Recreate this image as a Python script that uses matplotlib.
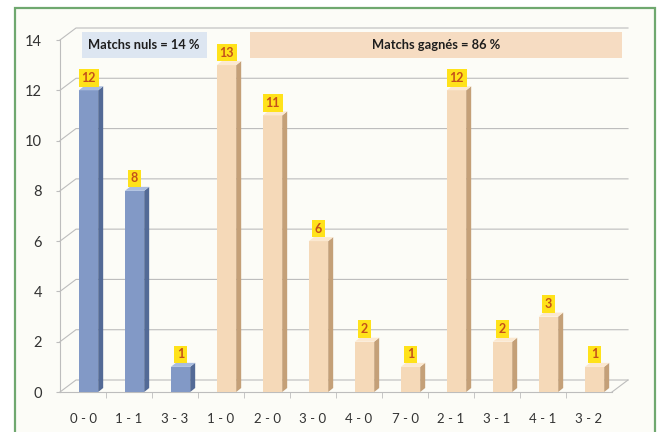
import matplotlib.pyplot as plt
from matplotlib.patches import Rectangle, Polygon
import numpy as np

categories = ['0 - 0', '1 - 1', '3 - 3', '1 - 0', '2 - 0', '3 - 0', '4 - 0',
              '7 - 0', '2 - 1', '3 - 1', '4 - 1', '3 - 2']
values = [12, 8, 1, 13, 11, 6, 2, 1, 12, 2, 3, 1]
n_draws = 3
label_draws = 'Matchs nuls = 14 %'
label_wins = 'Matchs gagnés = 86 %'
yticks = [0, 2, 4, 6, 8, 10, 12, 14]

plt.rcParams['font.family'] = ['Lato', 'DejaVu Sans']

W, H = 664, 432
fig = plt.figure(figsize=(W / 100, H / 100), dpi=100)
fig.patch.set_facecolor('white')

# green frame around the chart area
fig.patches.append(Rectangle((15 / W, -0.05), 640 / W, (432 - 8) / H + 0.05,
                             transform=fig.transFigure, facecolor='#fcfcf7',
                             edgecolor='#6fa86f', lw=1.6, zorder=-1))

ax = fig.add_axes([60 / W, 40 / H, (612 - 60) / W, (392 - 40) / H])
ax.set_zorder(2)
ax.set_facecolor('none')
ax.set_xlim(-0.5, len(categories) - 0.5)
ax.set_ylim(0, 14)
for s in ax.spines.values():
    s.set_visible(False)

px_x = (612 - 60) / len(categories)      # pixels per category
px_y = (392 - 40) / 14.0                 # pixels per unit
wdx, wdy = 16 / px_x, 12 / px_y          # depth of back wall
bdx, bdy = 5 / px_x, 4 / px_y            # depth of bars

grid_c = '#bdbdbd'
x0, x1 = -0.5, len(categories) - 0.5
for t in yticks:
    ax.plot([x0, x0 + wdx, x1 + wdx], [t, t + wdy, t + wdy], color=grid_c,
            lw=0.8, zorder=1, clip_on=False)
ax.plot([x0, x0], [0, 14], color=grid_c, lw=0.8, clip_on=False, zorder=1)
ax.plot([x0, x1], [0, 0], color=grid_c, lw=0.8, clip_on=False, zorder=1)
ax.plot([x1, x1 + wdx], [0, wdy], color=grid_c, lw=0.8, clip_on=False, zorder=1)

x = np.arange(len(categories))
xb = x + 0.12
bw = 0.42
fronts = ['#8299c6'] * n_draws + ['#f5d9b8'] * (len(values) - n_draws)
sides = ['#536a96'] * n_draws + ['#c4a078'] * (len(values) - n_draws)
tops = ['#a9bcdf'] * n_draws + ['#fbe8d0'] * (len(values) - n_draws)

ax.bar(xb, values, width=bw, color=fronts, zorder=3)
for xi, v, sc, tc in zip(xb, values, sides, tops):
    r = xi + bw / 2
    l = xi - bw / 2
    ax.add_patch(Polygon([(r, 0), (r, v), (r + bdx, v + bdy), (r + bdx, bdy)],
                         closed=True, facecolor=sc, edgecolor='none', zorder=3,
                         clip_on=False))
    ax.add_patch(Polygon([(l, v), (r, v), (r + bdx, v + bdy), (l + bdx, v + bdy)],
                         closed=True, facecolor=tc, edgecolor='none', zorder=3,
                         clip_on=False))
    ax.annotate(str(v), (xi, v), xytext=(0, 9), textcoords='offset points',
                ha='center', va='center', fontsize=9, fontweight='bold',
                color='#c4501a', zorder=5, annotation_clip=False,
                bbox=dict(boxstyle='square,pad=0.22', fc='#ffe21a', ec='none'))

# banners
ax.add_patch(Rectangle((-0.5 + 22 / px_x, 13.3), 125 / px_x, 1.0,
                       facecolor='#dde6f1', edgecolor='none', zorder=2,
                       clip_on=False))
ax.text(-0.5 + (22 + 62) / px_x, 13.8, label_draws, ha='center', va='center',
        fontsize=9.3, fontweight='bold', color='#1e1e1e', zorder=4)
ax.add_patch(Rectangle((-0.5 + 190 / px_x, 13.3), 372 / px_x, 1.0,
                       facecolor='#f6dcc2', edgecolor='none', zorder=2,
                       clip_on=False))
ax.text(-0.5 + (190 + 186) / px_x, 13.8, label_wins, ha='center', va='center',
        fontsize=9.3, fontweight='bold', color='#1e1e1e', zorder=4)

ax.set_yticks(yticks)
ax.set_yticklabels([str(t) for t in yticks], fontsize=10.5, color='#333333')
ax.tick_params(axis='y', length=3, color=grid_c, pad=10)
ax.set_xticks(x)
ax.set_xticklabels(categories, fontsize=9.5, color='#333333')
ax.set_xticks(x[:-1] + 0.5, minor=True)
ax.tick_params(axis='x', which='major', length=0, pad=15)
ax.tick_params(axis='x', which='minor', length=4, color=grid_c)

fig.savefig('out.png', dpi=100)
